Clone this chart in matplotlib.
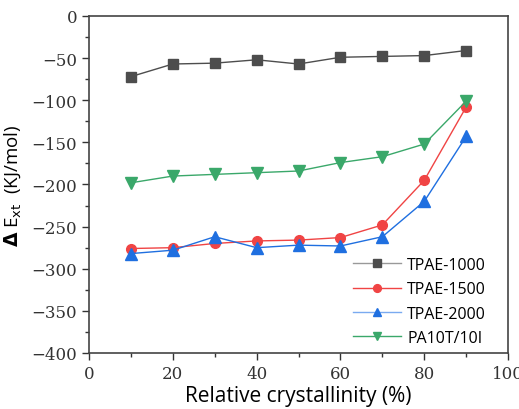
import matplotlib
matplotlib.use("Agg")
import matplotlib.pyplot as plt
from matplotlib.ticker import MultipleLocator

x = [10, 20, 30, 40, 50, 60, 70, 80, 90]
tpae1000 = [-72, -57, -56, -52, -57, -49, -48, -47, -41]
tpae1500 = [-276, -275, -270, -267, -266, -263, -248, -195, -108]
tpae2000 = [-282, -278, -262, -275, -272, -273, -262, -220, -143]
pa10t = [-198, -190, -188, -186, -184, -174, -167, -152, -101]
labels = ["TPAE-1000", "TPAE-1500", "TPAE-2000", "PA10T/10I"]

fig = plt.figure(figsize=(5.19, 4.10), dpi=100)
ax = fig.add_axes([0.1715, 0.1366, 0.8075, 0.822])

ax.plot(x, tpae1000, color="#4d4d4d", marker="s", ms=7, lw=1, label=labels[0])
ax.plot(x, tpae1500, color="#f04444", marker="o", ms=7, lw=1, label=labels[1])
ax.plot(x, tpae2000, color="#1f6fe0", marker="^", ms=8, lw=1, label=labels[2])
ax.plot(x, pa10t, color="#3aa86a", marker="v", ms=8, lw=1, label=labels[3])

ax.set_xlim(0, 100)
ax.set_ylim(-400, 0)
ax.xaxis.set_major_locator(MultipleLocator(20))
ax.xaxis.set_minor_locator(MultipleLocator(10))
ax.yaxis.set_major_locator(MultipleLocator(50))
ax.yaxis.set_minor_locator(MultipleLocator(25))
ax.tick_params(which="both", direction="out", top=False, right=False, colors="#333333")
ax.tick_params(which="major", length=5, width=1, labelsize=12, labelcolor="#333333")
ax.tick_params(which="minor", length=3, width=1)
for lab in ax.get_xticklabels() + ax.get_yticklabels():
    lab.set_fontfamily("DejaVu Serif")
for s in ax.spines.values():
    s.set_color("#444444")
    s.set_linewidth(1.2)

ax.set_xlabel("Relative crystallinity (%)", fontsize=15, family="Open Sans", labelpad=2)
ax.set_ylabel(r"$\mathbf{\Delta}$ E$_{\mathrm{xt}}$  (KJ/mol)", fontsize=13.5, family="Open Sans", labelpad=6)

leg = ax.legend(loc="lower right", bbox_to_anchor=(0.965, 0.0), frameon=False,
                prop={"family": "Open Sans", "size": 11.5}, markerscale=0.8,
                handlelength=3.0, handletextpad=0.4, borderaxespad=0.05, labelspacing=0.52)
handle_colors = ["#999999", "#f04444", "#7aaaf0", "#3aa86a"]
for h, c in zip(leg.legend_handles, handle_colors):
    h.set_color(c)
leg.legend_handles[0].set_markerfacecolor("#4d4d4d")
leg.legend_handles[0].set_markeredgecolor("#4d4d4d")
leg.legend_handles[2].set_markerfacecolor("#1f6fe0")
leg.legend_handles[2].set_markeredgecolor("#1f6fe0")

fig.savefig("out.png", dpi=100)
